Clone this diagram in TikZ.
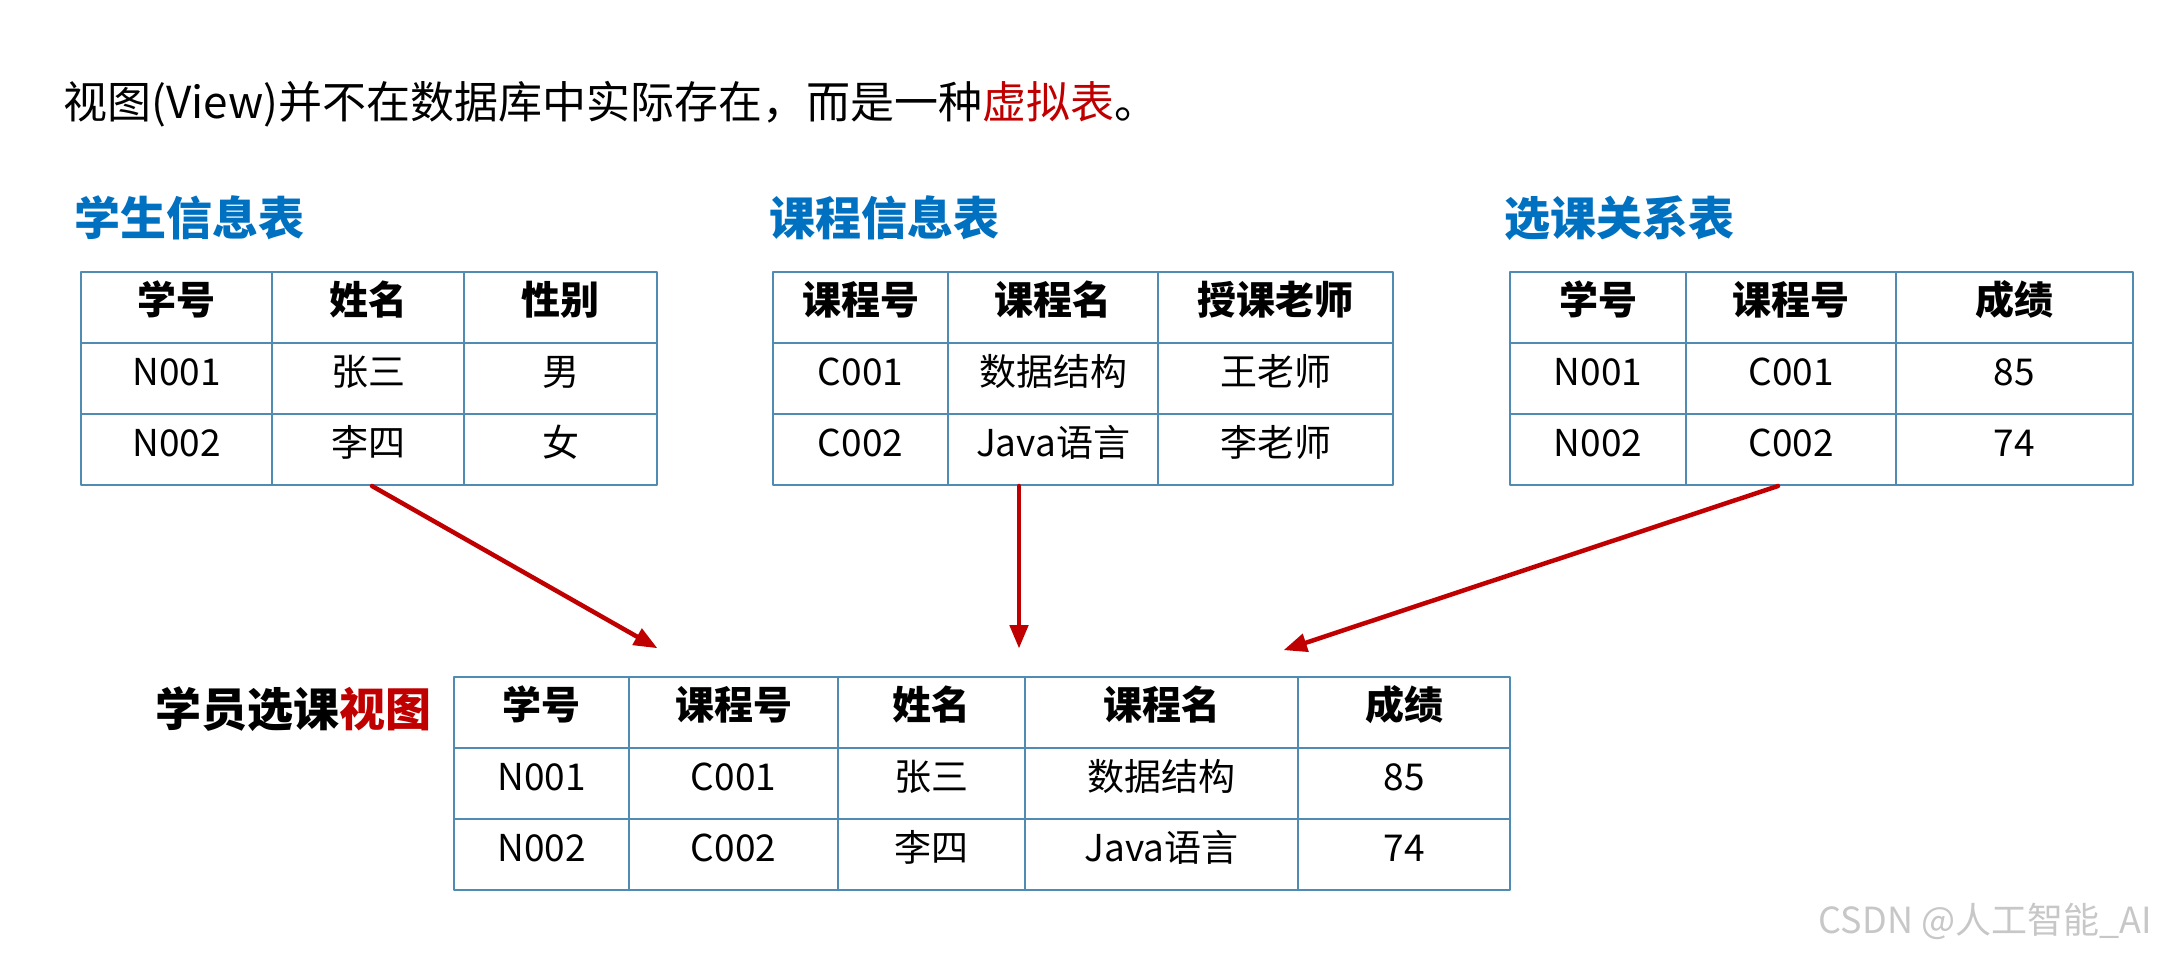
\documentclass[tikz,border=0pt]{standalone}
\usepackage{fontspec}
\setmainfont{Noto Sans CJK SC}
\usepackage{tikz}
\usetikzlibrary{arrows}
\definecolor{tabline}{RGB}{79,139,178}
\definecolor{titleblue}{RGB}{0,112,192}
\definecolor{darkred}{RGB}{192,0,0}
\begin{document}
\begin{tikzpicture}[line cap=round,line join=round,>=triangle 45,x=1pt,y=-1pt,
  cell/.style={draw=tabline,line width=2.4pt,rectangle,inner sep=0pt,minimum height=71pt,font=\fontsize{37}{40}\selectfont,text height=1.45em,text depth=0.12em},
  head/.style={cell,font=\fontsize{39}{42}\selectfont\bfseries},
  title/.style={anchor=west,inner sep=0pt,font=\fontsize{46}{50}\selectfont\bfseries,text=titleblue},
  link/.style={->,draw=darkred,line width=4.5pt}]
\useasboundingbox (0,0) rectangle (2160,960);
\node[anchor=west,inner sep=0pt,font=\fontsize{44}{48}\selectfont] (intro) at (63,104) {视图(View)并不在数据库中实际存在，而是一种\textcolor{darkred}{虚拟表}。};
\node[title] (stutitle) at (74,218) {学生信息表};
\node[title] (coutitle) at (769,218) {课程信息表};
\node[title] (seltitle) at (1504,218) {选课关系表};
% student table
\node[head,minimum width=191pt] (s11) at (176.5,307.5) {学号};
\node[head,minimum width=192pt] (s12) at (368,307.5) {姓名};
\node[head,minimum width=193pt] (s13) at (560.5,307.5) {性别};
\node[cell,minimum width=191pt] (s21) at (176.5,378.5) {N001};
\node[cell,minimum width=192pt] (s22) at (368,378.5) {张三};
\node[cell,minimum width=193pt] (s23) at (560.5,378.5) {男};
\node[cell,minimum width=191pt] (s31) at (176.5,449.5) {N002};
\node[cell,minimum width=192pt] (s32) at (368,449.5) {李四};
\node[cell,minimum width=193pt] (s33) at (560.5,449.5) {女};
% course table
\node[head,minimum width=175pt] (c11) at (860.5,307.5) {课程号};
\node[head,minimum width=210pt] (c12) at (1053,307.5) {课程名};
\node[head,minimum width=235pt] (c13) at (1275.5,307.5) {授课老师};
\node[cell,minimum width=175pt] (c21) at (860.5,378.5) {C001};
\node[cell,minimum width=210pt] (c22) at (1053,378.5) {数据结构};
\node[cell,minimum width=235pt] (c23) at (1275.5,378.5) {王老师};
\node[cell,minimum width=175pt] (c31) at (860.5,449.5) {C002};
\node[cell,minimum width=210pt] (c32) at (1053,449.5) {Java语言};
\node[cell,minimum width=235pt] (c33) at (1275.5,449.5) {李老师};
% selection table
\node[head,minimum width=176pt] (r11) at (1598,307.5) {学号};
\node[head,minimum width=210pt] (r12) at (1791,307.5) {课程号};
\node[head,minimum width=237pt] (r13) at (2014.5,307.5) {成绩};
\node[cell,minimum width=176pt] (r21) at (1598,378.5) {N001};
\node[cell,minimum width=210pt] (r22) at (1791,378.5) {C001};
\node[cell,minimum width=237pt] (r23) at (2014.5,378.5) {85};
\node[cell,minimum width=176pt] (r31) at (1598,449.5) {N002};
\node[cell,minimum width=210pt] (r32) at (1791,449.5) {C002};
\node[cell,minimum width=237pt] (r33) at (2014.5,449.5) {74};
% view table
\node[anchor=east,inner sep=0pt,font=\fontsize{46}{50}\selectfont\bfseries] (viewtitle) at (432,709) {学员选课\textcolor{darkred}{视图}};
\node[head,minimum width=175pt] (v11) at (541.5,712.5) {学号};
\node[head,minimum width=209pt] (v12) at (733.5,712.5) {课程号};
\node[head,minimum width=187pt] (v13) at (931.5,712.5) {姓名};
\node[head,minimum width=273pt] (v14) at (1161.5,712.5) {课程名};
\node[head,minimum width=212pt] (v15) at (1404,712.5) {成绩};
\node[cell,minimum width=175pt] (v21) at (541.5,783.5) {N001};
\node[cell,minimum width=209pt] (v22) at (733.5,783.5) {C001};
\node[cell,minimum width=187pt] (v23) at (931.5,783.5) {张三};
\node[cell,minimum width=273pt] (v24) at (1161.5,783.5) {数据结构};
\node[cell,minimum width=212pt] (v25) at (1404,783.5) {85};
\node[cell,minimum width=175pt] (v31) at (541.5,854.5) {N002};
\node[cell,minimum width=209pt] (v32) at (733.5,854.5) {C002};
\node[cell,minimum width=187pt] (v33) at (931.5,854.5) {李四};
\node[cell,minimum width=273pt] (v34) at (1161.5,854.5) {Java语言};
\node[cell,minimum width=212pt] (v35) at (1404,854.5) {74};
% arrows
\coordinate (from1) at (372,486);
\coordinate (to1) at (657,648);
\coordinate (from2) at (1019,486);
\coordinate (to2) at (1019,648);
\coordinate (from3) at (1778,486);
\coordinate (to3) at (1284,650);
\draw[link] (from1) -- (to1);
\draw[link] (from2) -- (to2);
\draw[link] (from3) -- (to3);
\node[anchor=east,inner sep=0pt,text=black!22,font=\fontsize{36}{38}\selectfont] (mark) at (2152,921) {CSDN @人工智能\_AI};
\end{tikzpicture}
\end{document}
